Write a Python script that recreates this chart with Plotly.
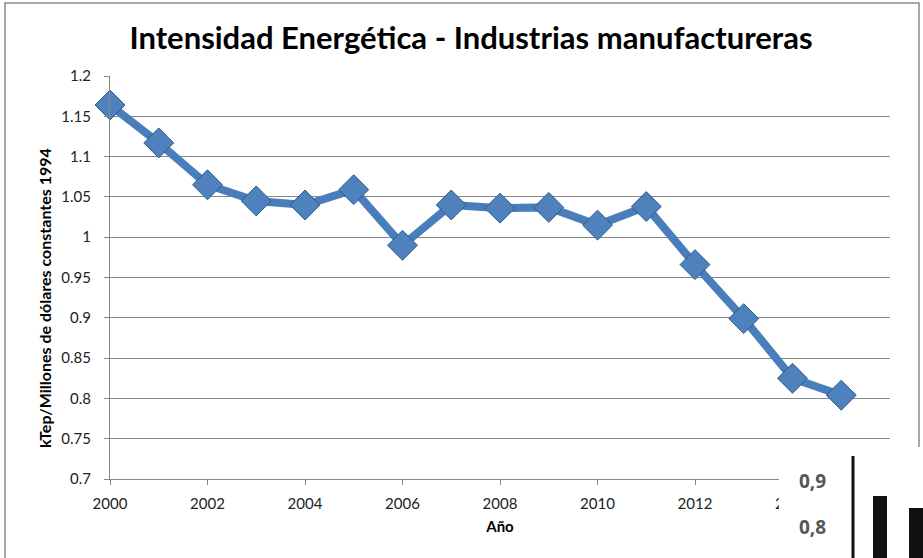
import plotly.graph_objects as go

years = list(range(2000, 2016))
intensidad = [1.164, 1.117, 1.065, 1.045, 1.040, 1.059, 0.990, 1.040,
              1.036, 1.037, 1.015, 1.038, 0.966, 0.899, 0.825, 0.804]
x_ticks = list(range(2000, 2018, 2))
y_ticks = [0.7, 0.75, 0.8, 0.85, 0.9, 0.95, 1.0, 1.05, 1.1, 1.15, 1.2]
y_labels = ["0.7", "0.75", "0.8", "0.85", "0.9", "0.95", "1", "1.05", "1.1", "1.15", "1.2"]

W, H = 923, 558
L, R, T, B = 110, 33, 76, 79
pw, ph = W - L - R, H - T - B

def px(x):
    return (x - L) / pw

def py(y):
    return (H - B - y) / ph

fig = go.Figure()
fig.add_trace(go.Scatter(
    x=years, y=intensidad, mode="lines+markers",
    line=dict(color="#4A7EBB", width=8),
    marker=dict(symbol="diamond", size=23, color="#4F81BD",
                line=dict(color="#2C5A8F", width=1)),
    showlegend=False, cliponaxis=False, hoverinfo="skip",
))

shapes = [
    dict(type="rect", xref="paper", yref="paper", x0=px(5), x1=px(919), y0=py(600), y1=py(3),
         line=dict(color="#8C8C8C", width=1.5), layer="below"),
    dict(type="rect", xref="paper", yref="paper", x0=px(779), x1=px(930), y0=py(565), y1=py(447),
         fillcolor="white", line=dict(width=0), layer="above"),
    dict(type="line", xref="paper", yref="paper", x0=px(853), x1=px(853), y0=py(565), y1=py(456),
         line=dict(color="#111111", width=3), layer="above"),
    dict(type="rect", xref="paper", yref="paper", x0=px(873), x1=px(887), y0=py(565), y1=py(496),
         fillcolor="#111111", line=dict(width=0), layer="above"),
    dict(type="rect", xref="paper", yref="paper", x0=px(909), x1=px(930), y0=py(565), y1=py(508),
         fillcolor="#111111", line=dict(width=0), layer="above"),
]

annotations = [
    dict(text="<b>kTep/Millones de dólares constantes 1994</b>", xref="paper", yref="paper",
         x=px(44), y=py(298), showarrow=False, textangle=-90,
         font=dict(family="Lato", size=16, color="black"), xanchor="center", yanchor="middle"),
    dict(text="<b>0,9</b>", xref="paper", yref="paper", x=px(812), y=py(481), showarrow=False,
         font=dict(family="Open Sans", size=19, color="#555555"), xanchor="center", yanchor="middle"),
    dict(text="<b>0,8</b>", xref="paper", yref="paper", x=px(812), y=py(527), showarrow=False,
         font=dict(family="Open Sans", size=19, color="#555555"), xanchor="center", yanchor="middle"),
]

fig.update_layout(
    width=W, height=H,
    margin=dict(l=L, r=R, t=T, b=B, autoexpand=False),
    paper_bgcolor="white", plot_bgcolor="white",
    title=dict(text="<b>Intensidad Energética - Industrias manufactureras</b>",
               x=471 / W, xanchor="center", y=1 - 38 / H, yanchor="middle",
               font=dict(family="Lato", size=31, color="black")),
    font=dict(family="Lato", size=15, color="black"),
    hovermode=False,
    xaxis=dict(range=[2000, 2016], tickvals=x_ticks, ticktext=[str(v) for v in x_ticks],
               showgrid=False, zeroline=False, showline=True, linecolor="#878787", linewidth=1,
               ticks="outside", ticklen=5, tickcolor="#878787", automargin=False,
               ticklabelstandoff=6,
               title=dict(text="<b>Año</b>", font=dict(size=15), standoff=10),
               tickfont=dict(size=15, color="#222222")),
    yaxis=dict(range=[0.7, 1.2], tickvals=y_ticks, ticktext=y_labels,
               showgrid=True, gridcolor="#878787", gridwidth=1, zeroline=False,
               showline=True, linecolor="#878787", linewidth=1,
               ticks="outside", ticklen=5, tickcolor="#878787", automargin=False,
               ticklabelstandoff=10,
               tickfont=dict(size=15, color="#222222")),
    shapes=shapes, annotations=annotations,
)

fig.write_html("out.html", config={"displayModeBar": False},
               post_script="document.body.style.margin='0px';document.body.style.overflow='hidden';")
